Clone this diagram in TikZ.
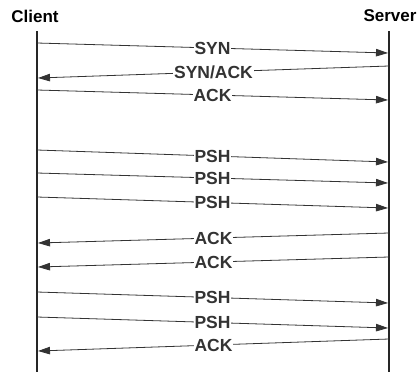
\documentclass[tikz,border=0pt]{standalone}
\usepackage{fontspec}
\setmainfont{Liberation Sans}
\usetikzlibrary{arrows.meta}
\begin{document}
\begin{tikzpicture}[x=1pt,y=-1pt,
  lifeline/.style={line width=2.2pt, black!85},
  msg/.style={line width=0.8pt, black!80, -{Triangle[length=12pt,width=7.5pt]}},
  lbl/.style={fill=white, inner sep=1pt, font=\fontsize{17.5}{18}\selectfont\bfseries},
  party/.style={font=\fontsize{17}{18}\selectfont\bfseries}]
  \useasboundingbox (0,0) rectangle (419,372);
  % participants and their lifelines
  \node[party] (client) at (35,16) {Client};
  \node[party] (server) at (390,16) {Server};
  \coordinate (ctop) at (37,31);  \coordinate (cbot) at (37,372);
  \coordinate (stop) at (389,31); \coordinate (sbot) at (389,372);
  \draw[lifeline] (ctop) -- (cbot);
  \draw[lifeline] (stop) -- (sbot);
  % messages from client to server: index / client-side y / server-side y / label
  \foreach \i/\cy/\sy/\t in {1/43/53/SYN, 3/90/100/ACK,
                             4/150/162/PSH, 5/173/183/PSH, 6/197/208/PSH,
                             9/292/303/PSH, 10/317/328/PSH} {
    \coordinate (c\i) at (37,\cy);
    \coordinate (s\i) at (388,\sy);
    \draw[msg] (c\i) -- node[lbl] {\t} (s\i);
  }
  % messages from server to client: index / server-side y / client-side y / label
  \foreach \i/\sy/\cy/\t in {2/66/78/{SYN/ACK}, 7/233/243/ACK,
                             8/257/267/ACK, 11/339/351/ACK} {
    \coordinate (s\i) at (389,\sy);
    \coordinate (c\i) at (38,\cy);
    \draw[msg] (s\i) -- node[lbl] {\t} (c\i);
  }
\end{tikzpicture}
\end{document}
